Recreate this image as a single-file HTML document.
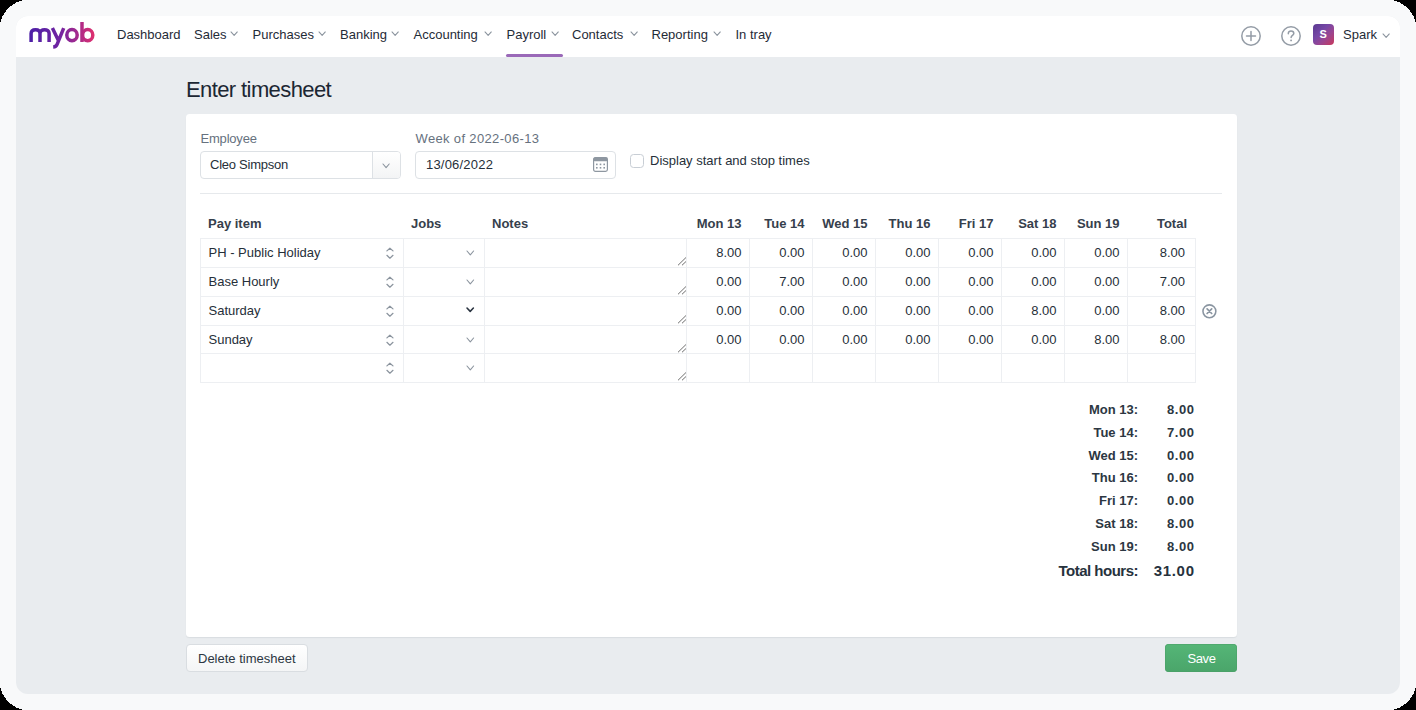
<!DOCTYPE html>
<html><head><meta charset="utf-8">
<style>
*{box-sizing:border-box;margin:0;padding:0}
html,body{width:1416px;height:710px;overflow:hidden;background:#000;font-family:"Liberation Sans",sans-serif;}
.a{position:absolute;white-space:nowrap;display:block}
.t{position:absolute;white-space:nowrap;line-height:1}
.nt{font-size:13px;color:#1f2b37;}
.lbl{font-size:13px;color:#66717e;}
.th{font-size:13px;font-weight:bold;color:#36404c;}
.cv{font-size:13px;color:#262f39;}
.sum{font-size:13px;font-weight:bold;color:#2c3742;}
</style></head><body>
<svg class="a" style="left:0;top:0" width="1416" height="710" viewBox="0 0 1416 710" shape-rendering="crispEdges"><path d="M26.0 0 H1390.0 C1402.6 0 1416 13.4 1416 26.0 V684.0 C1416 696.6 1402.6 710 1390.0 710 H26.0 C13.4 710 0 696.6 0 684.0 V26.0 C0 13.4 13.4 0 26.0 0 Z" fill="#f8f9fa"/></svg>
<div class="a" style="left:16px;top:16px;width:1384px;height:678px;border-radius:12px;background:#e9ecef;overflow:hidden">
<div class="a" style="left:0;top:0;width:1384px;height:41px;background:#fff"></div>
</div>

<svg class="a" style="left:26px;top:20px" width="72" height="30" viewBox="0 0 72 30">
<defs><linearGradient id="lg" gradientUnits="userSpaceOnUse" x1="3" x2="69" y1="0" y2="0"><stop offset="0" stop-color="#4c1fa6"/><stop offset="0.45" stop-color="#6f24a2"/><stop offset="0.75" stop-color="#a72a8c"/><stop offset="1" stop-color="#e2306c"/></linearGradient></defs>
<g fill="none" stroke="url(#lg)" stroke-width="3.5">
<path d="M5.1 22 V13.6 C5.1 11.1 7 9.7 9.55 9.7 C12.1 9.7 14 11.1 14 13.6 V22 M14 13.6 C14 11.1 16 9.7 18.55 9.7 C21.1 9.7 23.1 11.1 23.1 13.6 V22"/>
<path d="M26.4 8.1 L32.4 20.5 M37.7 8.1 L31.2 24.2 C30.4 26.3 29.2 27 27.2 27.1"/>
<ellipse cx="46" cy="15.1" rx="5.2" ry="5.6"/>
<path d="M56 2 V22"/>
<ellipse cx="61.7" cy="15.1" rx="5.1" ry="5.6"/>
</g></svg>
<span class="t nt" style="left:117px;top:28px;font-size:13px;">Dashboard</span>
<span class="t nt" style="left:194px;top:28px;font-size:13px;">Sales</span>
<svg class="a" style="left:228.40px;top:29.40px" width="12.30" height="9.40" viewBox="0 0 12.30 9.40"><path d="M3 3 L6.15 6.40 L9.30 3" fill="none" stroke="#8b949e" stroke-width="1.1" stroke-linecap="round" stroke-linejoin="round"/></svg>
<span class="t nt" style="left:252.5px;top:28px;font-size:13px;">Purchases</span>
<svg class="a" style="left:316.00px;top:29.40px" width="12.30" height="9.40" viewBox="0 0 12.30 9.40"><path d="M3 3 L6.15 6.40 L9.30 3" fill="none" stroke="#8b949e" stroke-width="1.1" stroke-linecap="round" stroke-linejoin="round"/></svg>
<span class="t nt" style="left:340px;top:28px;font-size:13px;">Banking</span>
<svg class="a" style="left:389.40px;top:29.40px" width="12.30" height="9.40" viewBox="0 0 12.30 9.40"><path d="M3 3 L6.15 6.40 L9.30 3" fill="none" stroke="#8b949e" stroke-width="1.1" stroke-linecap="round" stroke-linejoin="round"/></svg>
<span class="t nt" style="left:413.5px;top:28px;font-size:13px;">Accounting</span>
<svg class="a" style="left:482.30px;top:29.40px" width="12.30" height="9.40" viewBox="0 0 12.30 9.40"><path d="M3 3 L6.15 6.40 L9.30 3" fill="none" stroke="#8b949e" stroke-width="1.1" stroke-linecap="round" stroke-linejoin="round"/></svg>
<span class="t nt" style="left:506.5px;top:28px;font-size:13px;">Payroll</span>
<svg class="a" style="left:548.50px;top:29.40px" width="12.30" height="9.40" viewBox="0 0 12.30 9.40"><path d="M3 3 L6.15 6.40 L9.30 3" fill="none" stroke="#8b949e" stroke-width="1.1" stroke-linecap="round" stroke-linejoin="round"/></svg>
<span class="t nt" style="left:572px;top:28px;font-size:13px;">Contacts</span>
<svg class="a" style="left:627.70px;top:29.40px" width="12.30" height="9.40" viewBox="0 0 12.30 9.40"><path d="M3 3 L6.15 6.40 L9.30 3" fill="none" stroke="#8b949e" stroke-width="1.1" stroke-linecap="round" stroke-linejoin="round"/></svg>
<span class="t nt" style="left:651.5px;top:28px;font-size:13px;">Reporting</span>
<svg class="a" style="left:711.30px;top:29.40px" width="12.30" height="9.40" viewBox="0 0 12.30 9.40"><path d="M3 3 L6.15 6.40 L9.30 3" fill="none" stroke="#8b949e" stroke-width="1.1" stroke-linecap="round" stroke-linejoin="round"/></svg>
<span class="t nt" style="left:735.5px;top:28px;font-size:13px;">In tray</span>
<div class="a" style="left:506px;top:54px;width:57px;height:3px;background:#9a69b8;border-radius:1.5px"></div>
<svg class="a" style="left:1240px;top:25px" width="22" height="22" viewBox="0 0 22 22"><circle cx="11" cy="11" r="9.2" fill="none" stroke="#949ca6" stroke-width="1.5"/><path d="M11 6.5 V15.5 M6.5 11 H15.5" stroke="#949ca6" stroke-width="1.5" stroke-linecap="round"/></svg>
<svg class="a" style="left:1280px;top:25px" width="22" height="22" viewBox="0 0 22 22"><circle cx="11" cy="11" r="9.2" fill="none" stroke="#949ca6" stroke-width="1.5"/><path d="M8.3 8.7 C8.3 6.9 9.5 6 11 6 C12.6 6 13.8 7 13.8 8.5 C13.8 10.3 11.1 10.6 11.1 12.6" fill="none" stroke="#949ca6" stroke-width="1.5" stroke-linecap="round"/><circle cx="11.1" cy="15.4" r="0.95" fill="#949ca6"/></svg>
<div class="a" style="left:1312.5px;top:23.5px;width:21.5px;height:21.5px;border-radius:4px;background:linear-gradient(135deg,#5a3990 0%,#7647a6 38%,#9b4590 65%,#c8385a 100%)"></div>
<span class="t" style="left:1312.5px;top:29px;width:21.5px;text-align:center;font-size:11px;font-weight:bold;color:#fff">S</span>
<span class="t nt" style="left:1343px;top:28px;font-size:13px;">Spark</span>
<svg class="a" style="left:1379.60px;top:30.80px" width="12.30" height="9.40" viewBox="0 0 12.30 9.40"><path d="M3 3 L6.15 6.40 L9.30 3" fill="none" stroke="#8b949e" stroke-width="1.1" stroke-linecap="round" stroke-linejoin="round"/></svg>
<span class="t " style="left:186px;top:79px;font-size:22px;color:#1c2733;letter-spacing:-0.6px">Enter timesheet</span>
<div class="a" style="left:186px;top:114px;width:1051px;height:523px;background:#fff;border-radius:3.5px;box-shadow:0 1px 1px rgba(40,50,60,0.08)"></div>
<span class="t lbl" style="left:200.5px;top:132px;font-size:13px;letter-spacing:-0.2px">Employee</span>
<span class="t lbl" style="left:415.5px;top:132px;font-size:13px;letter-spacing:0.35px">Week of 2022-06-13</span>
<div class="a" style="left:200px;top:151px;width:201px;height:28px;border:1px solid #dde1e5;border-radius:4px;background:#fff;overflow:hidden"><div class="a" style="left:171px;top:0;width:29px;height:26px;border-left:1px solid #dde1e5;background:linear-gradient(#fff,#f3f4f5)"></div></div>
<span class="t cv" style="left:210px;top:158px;font-size:13px;letter-spacing:-0.25px">Cleo Simpson</span>
<svg class="a" style="left:380.30px;top:160.70px" width="12.20" height="9.60" viewBox="0 0 12.20 9.60"><path d="M3 3 L6.10 6.60 L9.20 3" fill="none" stroke="#8b949e" stroke-width="1.1" stroke-linecap="round" stroke-linejoin="round"/></svg>
<div class="a" style="left:415px;top:151px;width:201px;height:28px;border:1px solid #dde1e5;border-radius:4px;background:#fff"></div>
<span class="t cv" style="left:426px;top:158px;font-size:13px;letter-spacing:0.2px">13/06/2022</span>
<svg class="a" style="left:593px;top:157px" width="15" height="15" viewBox="0 0 15 15"><rect x="0.6" y="0.6" width="13.8" height="13.8" rx="1.8" fill="#fff" stroke="#8e97a1" stroke-width="1.2"/><rect x="0.6" y="0.6" width="13.8" height="3.6" rx="1.2" fill="#8e97a1"/>
<g fill="#8e97a1"><rect x="3" y="6.6" width="1.6" height="1.6"/><rect x="6.7" y="6.6" width="1.6" height="1.6"/><rect x="10.4" y="6.6" width="1.6" height="1.6"/><rect x="3" y="10" width="1.6" height="1.6"/><rect x="6.7" y="10" width="1.6" height="1.6"/><rect x="10.4" y="10" width="1.6" height="1.6"/></g></svg>
<div class="a" style="left:630px;top:153.5px;width:14px;height:14px;border:1.5px solid #c8ced5;border-radius:3.5px;background:#fff"></div>
<span class="t cv" style="left:650px;top:154px;font-size:13px;">Display start and stop times</span>
<div class="a" style="left:200px;top:193px;width:1022px;height:1px;background:#e6e9ec"></div>
<span class="t th" style="left:208px;top:217px;font-size:13px;">Pay item</span>
<span class="t th" style="left:411px;top:217px;font-size:13px;">Jobs</span>
<span class="t th" style="left:492px;top:217px;font-size:13px;">Notes</span>
<span class="t th" style="right:674.5px;top:217px;text-align:right;font-size:13px;">Mon 13</span>
<span class="t th" style="right:611.5px;top:217px;text-align:right;font-size:13px;">Tue 14</span>
<span class="t th" style="right:548.5px;top:217px;text-align:right;font-size:13px;">Wed 15</span>
<span class="t th" style="right:485.5px;top:217px;text-align:right;font-size:13px;">Thu 16</span>
<span class="t th" style="right:422.5px;top:217px;text-align:right;font-size:13px;">Fri 17</span>
<span class="t th" style="right:359.5px;top:217px;text-align:right;font-size:13px;">Sat 18</span>
<span class="t th" style="right:296.5px;top:217px;text-align:right;font-size:13px;">Sun 19</span>
<span class="t th" style="right:229px;top:217px;text-align:right;font-size:13px;">Total</span>
<div class="a" style="left:200px;top:238px;width:996px;height:145px;border:1px solid #edeff2"></div>
<div class="a" style="left:200px;top:267px;width:996px;height:1px;background:#edeff2"></div>
<div class="a" style="left:200px;top:296px;width:996px;height:1px;background:#edeff2"></div>
<div class="a" style="left:200px;top:325px;width:996px;height:1px;background:#edeff2"></div>
<div class="a" style="left:200px;top:353px;width:996px;height:1px;background:#edeff2"></div>
<div class="a" style="left:403px;top:238px;width:1px;height:145px;background:#edeff2"></div>
<div class="a" style="left:484px;top:238px;width:1px;height:145px;background:#edeff2"></div>
<div class="a" style="left:686px;top:238px;width:1px;height:145px;background:#edeff2"></div>
<div class="a" style="left:749px;top:238px;width:1px;height:145px;background:#edeff2"></div>
<div class="a" style="left:812px;top:238px;width:1px;height:145px;background:#edeff2"></div>
<div class="a" style="left:875px;top:238px;width:1px;height:145px;background:#edeff2"></div>
<div class="a" style="left:938px;top:238px;width:1px;height:145px;background:#edeff2"></div>
<div class="a" style="left:1001px;top:238px;width:1px;height:145px;background:#edeff2"></div>
<div class="a" style="left:1064px;top:238px;width:1px;height:145px;background:#edeff2"></div>
<div class="a" style="left:1127px;top:238px;width:1px;height:145px;background:#edeff2"></div>
<span class="t cv" style="left:208.5px;top:246px;font-size:13px;">PH - Public Holiday</span>
<svg class="a" style="left:383px;top:245px" width="14" height="16" viewBox="0 0 14 16"><path d="M3.9 5.9 L6.9 3.2 L10 5.9 M3.9 10.3 L6.9 13.2 L10 10.3" fill="none" stroke="#8b949e" stroke-width="1.2" stroke-linecap="round" stroke-linejoin="round"/></svg>
<svg class="a" style="left:464.20px;top:247.60px" width="12.60" height="9.90" viewBox="0 0 12.60 9.90"><path d="M3 3 L6.30 6.90 L9.60 3" fill="none" stroke="#8b949e" stroke-width="1.1" stroke-linecap="round" stroke-linejoin="round"/></svg>
<svg class="a" style="left:676px;top:257px" width="11" height="10" viewBox="0 0 11 10"><path d="M2.3 8 L9.7 0.8 M6.3 8 L9.7 4.8" stroke="#6f6f6f" stroke-width="1" stroke-linecap="round"/></svg>
<span class="t cv" style="right:674.5px;top:246px;text-align:right;font-size:13px;">8.00</span>
<span class="t cv" style="right:611.5px;top:246px;text-align:right;font-size:13px;">0.00</span>
<span class="t cv" style="right:548.5px;top:246px;text-align:right;font-size:13px;">0.00</span>
<span class="t cv" style="right:485.5px;top:246px;text-align:right;font-size:13px;">0.00</span>
<span class="t cv" style="right:422.5px;top:246px;text-align:right;font-size:13px;">0.00</span>
<span class="t cv" style="right:359.5px;top:246px;text-align:right;font-size:13px;">0.00</span>
<span class="t cv" style="right:296.5px;top:246px;text-align:right;font-size:13px;">0.00</span>
<span class="t cv" style="right:231px;top:246px;text-align:right;font-size:13px;">8.00</span>
<span class="t cv" style="left:208.5px;top:275px;font-size:13px;">Base Hourly</span>
<svg class="a" style="left:383px;top:274px" width="14" height="16" viewBox="0 0 14 16"><path d="M3.9 5.9 L6.9 3.2 L10 5.9 M3.9 10.3 L6.9 13.2 L10 10.3" fill="none" stroke="#8b949e" stroke-width="1.2" stroke-linecap="round" stroke-linejoin="round"/></svg>
<svg class="a" style="left:464.20px;top:276.60px" width="12.60" height="9.90" viewBox="0 0 12.60 9.90"><path d="M3 3 L6.30 6.90 L9.60 3" fill="none" stroke="#8b949e" stroke-width="1.1" stroke-linecap="round" stroke-linejoin="round"/></svg>
<svg class="a" style="left:676px;top:286px" width="11" height="10" viewBox="0 0 11 10"><path d="M2.3 8 L9.7 0.8 M6.3 8 L9.7 4.8" stroke="#6f6f6f" stroke-width="1" stroke-linecap="round"/></svg>
<span class="t cv" style="right:674.5px;top:275px;text-align:right;font-size:13px;">0.00</span>
<span class="t cv" style="right:611.5px;top:275px;text-align:right;font-size:13px;">7.00</span>
<span class="t cv" style="right:548.5px;top:275px;text-align:right;font-size:13px;">0.00</span>
<span class="t cv" style="right:485.5px;top:275px;text-align:right;font-size:13px;">0.00</span>
<span class="t cv" style="right:422.5px;top:275px;text-align:right;font-size:13px;">0.00</span>
<span class="t cv" style="right:359.5px;top:275px;text-align:right;font-size:13px;">0.00</span>
<span class="t cv" style="right:296.5px;top:275px;text-align:right;font-size:13px;">0.00</span>
<span class="t cv" style="right:231px;top:275px;text-align:right;font-size:13px;">7.00</span>
<span class="t cv" style="left:208.5px;top:304px;font-size:13px;">Saturday</span>
<svg class="a" style="left:383px;top:303px" width="14" height="16" viewBox="0 0 14 16"><path d="M3.9 5.9 L6.9 3.2 L10 5.9 M3.9 10.3 L6.9 13.2 L10 10.3" fill="none" stroke="#8b949e" stroke-width="1.2" stroke-linecap="round" stroke-linejoin="round"/></svg>
<svg class="a" style="left:464.30px;top:305.40px" width="12.40" height="9.40" viewBox="0 0 12.40 9.40"><path d="M3 3 L6.20 6.40 L9.40 3" fill="none" stroke="#2a3440" stroke-width="1.55" stroke-linecap="round" stroke-linejoin="round"/></svg>
<svg class="a" style="left:676px;top:315px" width="11" height="10" viewBox="0 0 11 10"><path d="M2.3 8 L9.7 0.8 M6.3 8 L9.7 4.8" stroke="#6f6f6f" stroke-width="1" stroke-linecap="round"/></svg>
<span class="t cv" style="right:674.5px;top:304px;text-align:right;font-size:13px;">0.00</span>
<span class="t cv" style="right:611.5px;top:304px;text-align:right;font-size:13px;">0.00</span>
<span class="t cv" style="right:548.5px;top:304px;text-align:right;font-size:13px;">0.00</span>
<span class="t cv" style="right:485.5px;top:304px;text-align:right;font-size:13px;">0.00</span>
<span class="t cv" style="right:422.5px;top:304px;text-align:right;font-size:13px;">0.00</span>
<span class="t cv" style="right:359.5px;top:304px;text-align:right;font-size:13px;">8.00</span>
<span class="t cv" style="right:296.5px;top:304px;text-align:right;font-size:13px;">0.00</span>
<span class="t cv" style="right:231px;top:304px;text-align:right;font-size:13px;">8.00</span>
<span class="t cv" style="left:208.5px;top:333px;font-size:13px;">Sunday</span>
<svg class="a" style="left:383px;top:332px" width="14" height="16" viewBox="0 0 14 16"><path d="M3.9 5.9 L6.9 3.2 L10 5.9 M3.9 10.3 L6.9 13.2 L10 10.3" fill="none" stroke="#8b949e" stroke-width="1.2" stroke-linecap="round" stroke-linejoin="round"/></svg>
<svg class="a" style="left:464.20px;top:334.60px" width="12.60" height="9.90" viewBox="0 0 12.60 9.90"><path d="M3 3 L6.30 6.90 L9.60 3" fill="none" stroke="#8b949e" stroke-width="1.1" stroke-linecap="round" stroke-linejoin="round"/></svg>
<svg class="a" style="left:676px;top:344px" width="11" height="10" viewBox="0 0 11 10"><path d="M2.3 8 L9.7 0.8 M6.3 8 L9.7 4.8" stroke="#6f6f6f" stroke-width="1" stroke-linecap="round"/></svg>
<span class="t cv" style="right:674.5px;top:333px;text-align:right;font-size:13px;">0.00</span>
<span class="t cv" style="right:611.5px;top:333px;text-align:right;font-size:13px;">0.00</span>
<span class="t cv" style="right:548.5px;top:333px;text-align:right;font-size:13px;">0.00</span>
<span class="t cv" style="right:485.5px;top:333px;text-align:right;font-size:13px;">0.00</span>
<span class="t cv" style="right:422.5px;top:333px;text-align:right;font-size:13px;">0.00</span>
<span class="t cv" style="right:359.5px;top:333px;text-align:right;font-size:13px;">0.00</span>
<span class="t cv" style="right:296.5px;top:333px;text-align:right;font-size:13px;">8.00</span>
<span class="t cv" style="right:231px;top:333px;text-align:right;font-size:13px;">8.00</span>
<svg class="a" style="left:383px;top:360px" width="14" height="16" viewBox="0 0 14 16"><path d="M3.9 5.9 L6.9 3.2 L10 5.9 M3.9 10.3 L6.9 13.2 L10 10.3" fill="none" stroke="#8b949e" stroke-width="1.2" stroke-linecap="round" stroke-linejoin="round"/></svg>
<svg class="a" style="left:464.20px;top:362.60px" width="12.60" height="9.90" viewBox="0 0 12.60 9.90"><path d="M3 3 L6.30 6.90 L9.60 3" fill="none" stroke="#8b949e" stroke-width="1.1" stroke-linecap="round" stroke-linejoin="round"/></svg>
<svg class="a" style="left:676px;top:372px" width="11" height="10" viewBox="0 0 11 10"><path d="M2.3 8 L9.7 0.8 M6.3 8 L9.7 4.8" stroke="#6f6f6f" stroke-width="1" stroke-linecap="round"/></svg>
<svg class="a" style="left:1201px;top:302.5px" width="17" height="17" viewBox="0 0 17 17"><circle cx="8.4" cy="8.3" r="6.45" fill="none" stroke="#8a95a1" stroke-width="1.55"/><path d="M6.1 5.9 L10.7 10.5 M10.7 5.9 L6.1 10.5" stroke="#8a95a1" stroke-width="1.7" stroke-linecap="round"/></svg>
<span class="t sum" style="right:278px;top:403px;text-align:right;font-size:13px;">Mon 13:</span>
<span class="t sum" style="right:221.4000000000001px;top:403px;text-align:right;font-size:13px;letter-spacing:0.6px">8.00</span>
<span class="t sum" style="right:278px;top:426px;text-align:right;font-size:13px;">Tue 14:</span>
<span class="t sum" style="right:221.4000000000001px;top:426px;text-align:right;font-size:13px;letter-spacing:0.6px">7.00</span>
<span class="t sum" style="right:278px;top:449px;text-align:right;font-size:13px;">Wed 15:</span>
<span class="t sum" style="right:221.4000000000001px;top:449px;text-align:right;font-size:13px;letter-spacing:0.6px">0.00</span>
<span class="t sum" style="right:278px;top:471px;text-align:right;font-size:13px;">Thu 16:</span>
<span class="t sum" style="right:221.4000000000001px;top:471px;text-align:right;font-size:13px;letter-spacing:0.6px">0.00</span>
<span class="t sum" style="right:278px;top:494px;text-align:right;font-size:13px;">Fri 17:</span>
<span class="t sum" style="right:221.4000000000001px;top:494px;text-align:right;font-size:13px;letter-spacing:0.6px">0.00</span>
<span class="t sum" style="right:278px;top:517px;text-align:right;font-size:13px;">Sat 18:</span>
<span class="t sum" style="right:221.4000000000001px;top:517px;text-align:right;font-size:13px;letter-spacing:0.6px">8.00</span>
<span class="t sum" style="right:278px;top:540px;text-align:right;font-size:13px;">Sun 19:</span>
<span class="t sum" style="right:221.4000000000001px;top:540px;text-align:right;font-size:13px;letter-spacing:0.6px">8.00</span>
<span class="t sum" style="right:278px;top:563px;text-align:right;font-size:15px;letter-spacing:-0.5px;color:#27323d">Total hours:</span>
<span class="t sum" style="right:221.29999999999995px;top:563px;text-align:right;font-size:15px;color:#27323d;letter-spacing:0.7px">31.00</span>
<div class="a" style="left:186px;top:644px;width:122px;height:28px;border:1px solid #d9dde1;border-radius:4px;background:linear-gradient(#fff,#f4f5f6)"></div>
<span class="t cv" style="left:198px;top:652px;font-size:13px;color:#2c3742">Delete timesheet</span>
<div class="a" style="left:1165px;top:644px;width:72px;height:28px;border-radius:4px;background:linear-gradient(#55b677,#4aa56a);box-shadow:0 0 0 0.5px #4a9e66 inset"></div>
<span class="t " style="left:1187.5px;top:652px;font-size:13px;color:#fff;letter-spacing:-0.4px">Save</span>
</body></html>
